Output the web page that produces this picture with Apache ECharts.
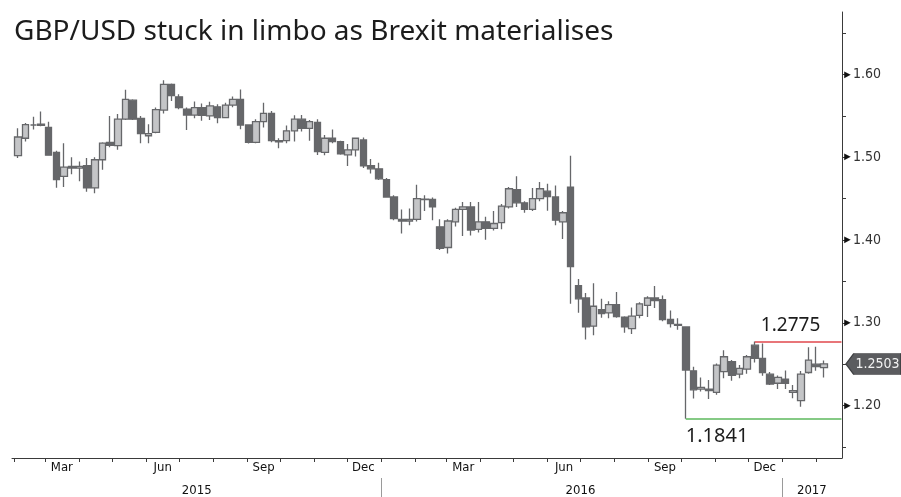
<!DOCTYPE html>
<html><head><meta charset="utf-8">
<script src="https://cdn.jsdelivr.net/npm/echarts@6/dist/echarts.min.js"></script>
<style>html,body{margin:0;padding:0;background:#fff}#c{width:901px;height:497px}</style>
</head><body><div id="c"></div>
<script>
// ---------- data ----------
const chartTitle = 'GBP/USD stuck in limbo as Brexit materialises';
const firstWeekMonday = '2015-02-02';   // weekly candles, one per trading week
const axisStart = '2015-01-30';
const axisEnd = '2017-02-24';

const openV = [
1.502,1.523,1.539,1.540,1.536,1.506,1.477,1.489,1.487,1.490,1.463,1.497,1.518,1.514,1.546,1.569,1.547,1.526,1.530,1.557,1.588,1.573,1.558,1.551,1.560,1.550,1.561,1.548,1.563,1.570,1.539,1.518,1.543,1.553,1.520,1.520,1.532,1.546,1.535,1.542,1.506,1.523,1.519,1.503,1.509,1.521,1.490,1.486,
1.473,1.452,1.425,1.423,1.425,1.449,1.449,1.416,1.391,1.422,1.437,1.440,1.413,1.422,1.414,1.421,1.440,1.461,1.445,1.437,1.450,1.459,1.452,1.422,1.464,1.345,1.330,1.296,1.316,1.312,1.322,1.307,1.293,1.309,1.321,1.330,1.328,1.304,1.298,1.295,1.242,1.220,1.220,1.216,1.241,1.253,1.238,1.244,1.273,1.257,1.238,1.227,
1.232,1.216,1.206,1.240,1.250,1.246];
const closeV = [
1.5245,1.5395,1.539,1.5385,1.5025,1.473,1.488,1.487,1.489,1.463,1.497,1.517,1.5145,1.546,1.570,1.546,1.5285,1.5285,1.5575,1.588,1.5745,1.560,1.551,1.560,1.5505,1.562,1.548,1.563,1.570,1.539,1.518,1.543,1.553,1.520,1.5185,1.532,1.546,1.535,1.543,1.507,1.523,1.519,1.504,1.509,1.523,1.4895,1.486,1.474,
1.452,1.426,1.423,1.425,1.450,1.4495,1.440,1.390,1.423,1.437,1.440,1.412,1.422,1.414,1.420,1.441,1.462,1.445,1.437,1.450,1.462,1.4525,1.424,1.433,1.368,1.329,1.295,1.320,1.311,1.322,1.3075,1.295,1.308,1.323,1.330,1.327,1.304,1.299,1.297,1.243,1.219,1.222,1.218,1.249,1.259,1.2365,1.245,1.259,1.257,1.240,1.226,1.234,
1.227,1.218,1.238,1.255,1.247,1.2503];
const lowV = [
1.499,1.519,1.5335,1.5375,1.502,1.4633,1.464,1.4795,1.471,1.4585,1.4566,1.485,1.512,1.509,1.545,1.545,1.517,1.517,1.529,1.553,1.568,1.558,1.533,1.547,1.544,1.545,1.541,1.547,1.5605,1.534,1.5165,1.517,1.536,1.518,1.511,1.517,1.519,1.531,1.520,1.5026,1.5025,1.517,1.503,1.4895,1.501,1.487,1.4805,1.4725,
1.4515,1.424,1.408,1.418,1.4225,1.435,1.424,1.388,1.3836,1.4165,1.405,1.4055,1.409,1.4005,1.4115,1.413,1.438,1.440,1.433,1.435,1.447,1.4355,1.418,1.4013,1.3229,1.3122,1.2798,1.285,1.306,1.3055,1.306,1.288,1.2866,1.3055,1.307,1.318,1.302,1.2945,1.2915,1.1841,1.2086,1.217,1.208,1.213,1.233,1.230,1.233,1.2385,1.252,1.236,1.225,1.220,
1.220,1.209,1.1986,1.2385,1.242,1.234];
const highV = [
1.535,1.5415,1.549,1.5552,1.543,1.508,1.517,1.500,1.495,1.499,1.500,1.518,1.5499,1.5522,1.5815,1.570,1.550,1.540,1.560,1.593,1.589,1.576,1.560,1.5675,1.565,1.567,1.564,1.566,1.5735,1.5818,1.540,1.546,1.566,1.556,1.523,1.5385,1.5508,1.551,1.545,1.546,1.527,1.5335,1.520,1.516,1.524,1.524,1.498,1.4935,
1.475,1.454,1.437,1.438,1.4668,1.454,1.4515,1.425,1.425,1.439,1.446,1.446,1.446,1.428,1.435,1.4435,1.464,1.477,1.447,1.463,1.470,1.468,1.466,1.435,1.5018,1.353,1.336,1.3479,1.329,1.326,1.3372,1.308,1.3185,1.325,1.332,1.3445,1.333,1.315,1.3055,1.296,1.247,1.234,1.231,1.251,1.267,1.255,1.249,1.261,1.2775,1.275,1.2405,1.2365,
1.2425,1.225,1.2418,1.2706,1.271,1.2545];

const yLabelValues = [1.20, 1.30, 1.40, 1.50, 1.60];
const yTickValues = [1.15, 1.20, 1.25, 1.30, 1.35, 1.40, 1.45, 1.50, 1.55, 1.60, 1.65];
const monthLabels = {2: 'Mar', 5: 'Jun', 8: 'Sep', 11: 'Dec'};
const yearLabelDates = {'2015-07-17': '2015', '2016-07-01': '2016', '2017-01-28': '2017'};
const lastPrice = 1.2503;
const resistance = {date: '2016-12-07', value: 1.2775};
const support = {date: '2016-10-05', value: 1.1841};

// ---------- build ----------
function iso(d) { return d.toISOString().slice(0, 10); }
const days = [];
for (let d = new Date(axisStart + 'T00:00:00Z'); iso(d) <= axisEnd; d.setUTCDate(d.getUTCDate() + 1)) days.push(iso(d));
const candleDates = [];
{
  const d = new Date(firstWeekMonday + 'T00:00:00Z');
  d.setUTCDate(d.getUTCDate() + 2);
  for (let i = 0; i < openV.length; i++) { candleDates.push(iso(d)); d.setUTCDate(d.getUTCDate() + 7); }
}
const source = candleDates.map((dt, i) => [dt, openV[i], closeV[i], lowV[i], highV[i]]);
const lastDay = days[days.length - 1];

const gray = '#66676a';
const axisFont = "'Liberation Sans Narrow','DejaVu Sans Condensed','Liberation Sans',sans-serif";
const labelFont = "'Noto Sans','Open Sans',sans-serif";

const chart = echarts.init(document.getElementById('c'), null, {renderer: 'canvas'});
chart.setOption({
  animation: false,
  backgroundColor: '#ffffff',
  title: {
    text: chartTitle, left: 14, top: 18, padding: 0,
    textStyle: {fontFamily: labelFont, fontSize: 28, fontWeight: 'normal', color: '#1c1c1c'}
  },
  grid: {left: 12, right: 59, top: 12, bottom: 39},
  xAxis: [{
    type: 'category', data: days, boundaryGap: true, position: 'bottom',
    axisLine: {show: true, lineStyle: {color: '#3a3a3a', width: 1}},
    axisTick: {show: true, alignWithLabel: true, length: 4, lineStyle: {color: '#3a3a3a'},
      interval: (i, v) => v.slice(8) === '01'},
    axisLabel: {show: true, margin: 3, color: '#111', fontSize: 13, fontFamily: axisFont,
      interval: (i, v) => v.slice(8) === '16' && monthLabels[+v.slice(5, 7) - 1] !== undefined,
      formatter: v => monthLabels[+v.slice(5, 7) - 1] || ''},
    splitLine: {show: false}
  }, {
    type: 'category', data: days, boundaryGap: true, position: 'bottom', offset: 20,
    axisLine: {show: false},
    axisTick: {show: true, alignWithLabel: true, length: 19, lineStyle: {color: '#9a9a9a'},
      interval: (i, v) => v.slice(5) === '01-01'},
    axisLabel: {show: true, margin: 6, color: '#111', fontSize: 13, fontFamily: axisFont,
      interval: (i, v) => yearLabelDates[v] !== undefined,
      formatter: v => yearLabelDates[v] || ''},
    splitLine: {show: false}
  }],
  yAxis: {
    type: 'value', position: 'right', min: 1.1367, max: 1.6755, scale: true,
    axisLine: {show: true, lineStyle: {color: '#3a3a3a', width: 1}},
    axisTick: {show: true, length: 4, customValues: yTickValues, lineStyle: {color: '#3a3a3a'}},
    axisLabel: {show: true, margin: 0, customValues: yLabelValues,
      formatter: v => '{t|►}{v|' + v.toFixed(2) + '}',
      rich: {t: {fontSize: 11, color: '#111', padding: [0, 0, 0, 0]},
             v: {fontSize: 14, color: '#333', fontFamily: "'DejaVu Sans Condensed','Liberation Sans',sans-serif"}}},
    splitLine: {show: false}
  },
  dataset: {source: source},
  series: [{
    type: 'candlestick',
    encode: {x: 0, y: [1, 2, 3, 4]},
    barWidth: 7,
    itemStyle: {color: '#c4c5c7', color0: gray, borderColor: gray, borderColor0: gray, borderWidth: 1.3},
    markLine: {
      silent: true, symbol: ['none', 'none'],
      data: [
        [{coord: [resistance.date, resistance.value], lineStyle: {color: '#e0474c', width: 1.5, type: 'solid'},
          label: {show: true, position: 'insideStartTop', formatter: resistance.value.toFixed(4), distance: [6, 6],
                  color: '#1c1c1c', fontSize: 19, fontFamily: labelFont}},
         {coord: [lastDay, resistance.value]}],
        [{coord: [support.date, support.value], lineStyle: {color: '#5cb85c', width: 1.5, type: 'solid'},
          label: {show: true, position: 'insideStartBottom', formatter: support.value.toFixed(4), distance: [0, 8],
                  color: '#1c1c1c', fontSize: 20, fontFamily: labelFont}},
         {coord: [lastDay, support.value]}]
      ]
    },
    markPoint: {
      silent: true,
      data: [{coord: [lastDay, lastPrice], value: lastPrice}],
      symbol: 'path://M0,10 L8,0 L56,0 L56,20 L8,20 Z',
      symbolSize: [55, 21], symbolKeepAspect: false, symbolOffset: [32, 0],
      itemStyle: {color: '#5b5c5f', borderColor: '#3e3f41', borderWidth: 1},
      label: {show: true, position: 'inside', offset: [4, 0], color: '#f2f2f2', fontSize: 14,
              fontFamily: "'DejaVu Sans Condensed','Liberation Sans',sans-serif",
              formatter: p => (+p.value).toFixed(4)}
    }
  }]
});
</script>
</body></html>
